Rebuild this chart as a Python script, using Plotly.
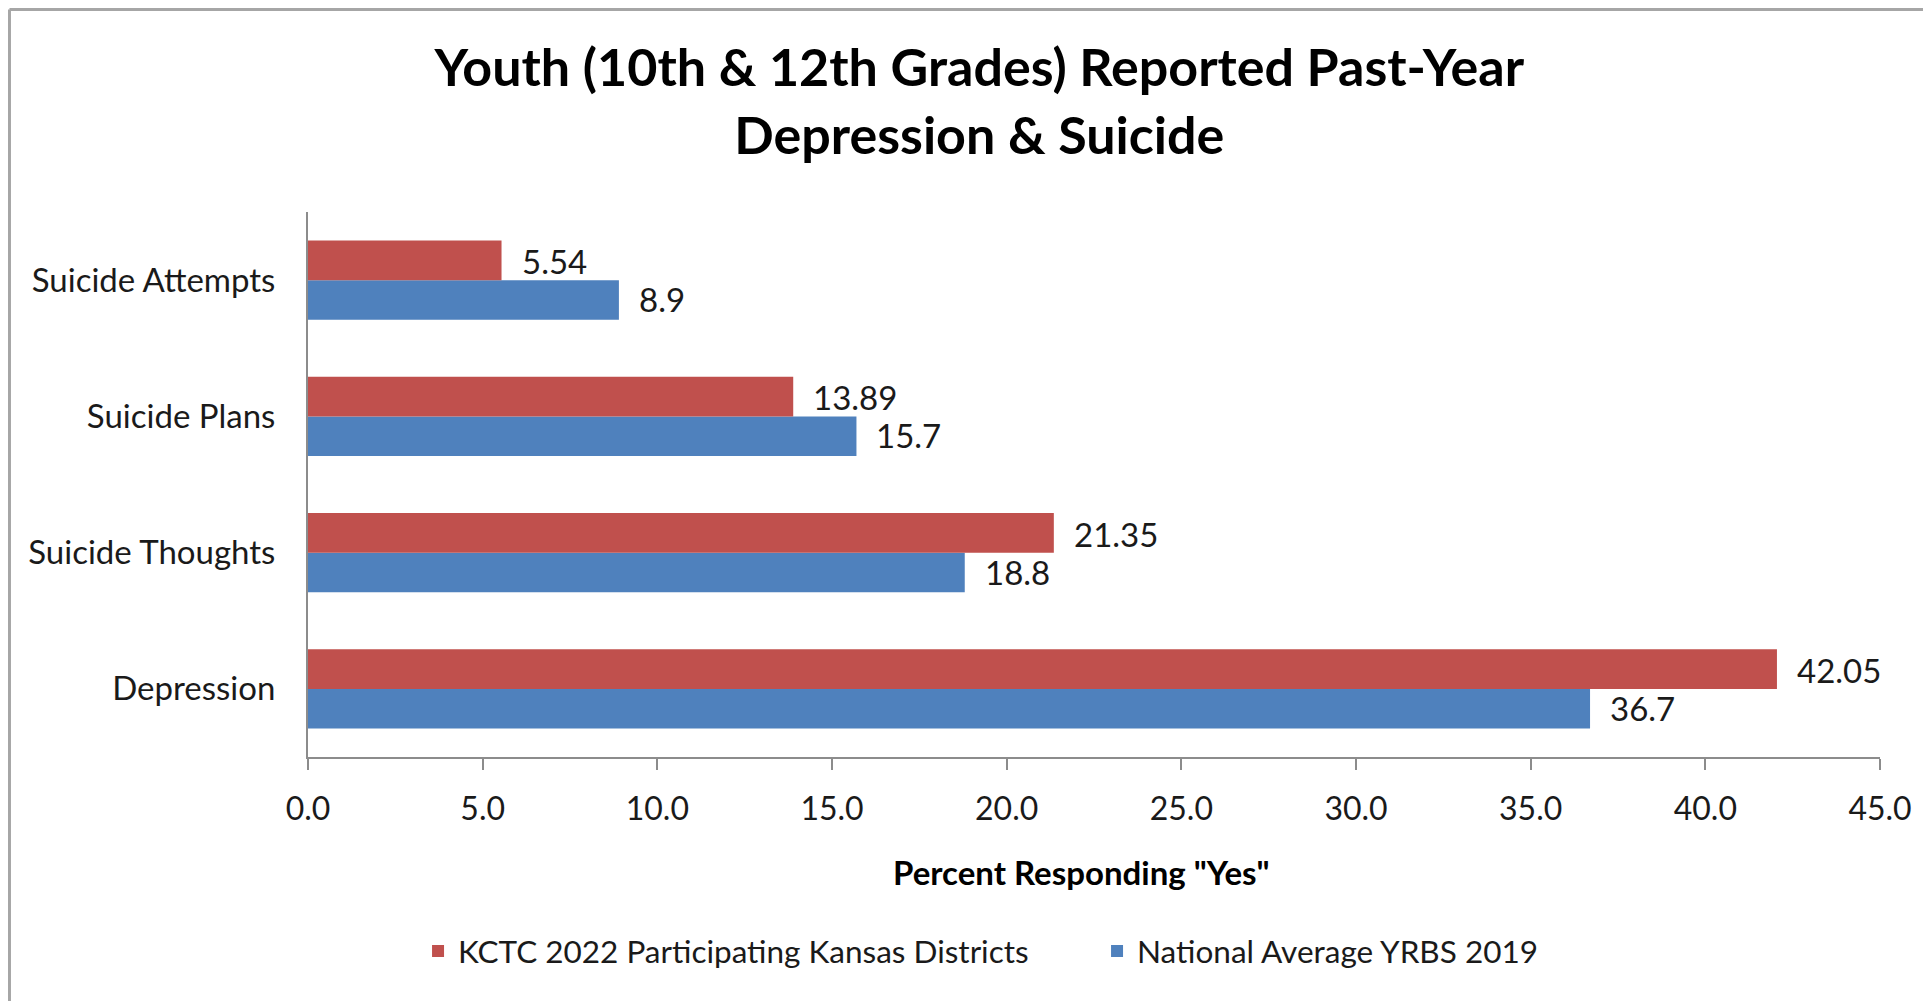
import plotly.graph_objects as go

categories = ["Depression", "Suicide Thoughts", "Suicide Plans", "Suicide Attempts"]
kansas_2022 = [42.05, 21.35, 13.89, 5.54]
national_2019 = [36.7, 18.8, 15.7, 8.9]
series_names = ["KCTC 2022 Participating Kansas Districts", "National Average YRBS 2019"]
x_ticks = [0, 5, 10, 15, 20, 25, 30, 35, 40, 45]

RED = "#C0504D"
BLUE = "#4F81BD"
FONT = "Lato"
TXT = "#1a1a1a"

fig = go.Figure()
fig.add_trace(go.Bar(
    y=categories, x=national_2019, orientation="h", name=series_names[1],
    marker=dict(color=BLUE, line=dict(width=0)), legendrank=2,
))
fig.add_trace(go.Bar(
    y=categories, x=kansas_2022, orientation="h", name=series_names[0],
    marker=dict(color=RED, line=dict(width=0)), legendrank=1,
))

annotations = []
for cat, v in zip(categories, kansas_2022):
    annotations.append(dict(x=v, y=cat, xref="x", yref="y", text=str(v), showarrow=False,
                            xanchor="left", yanchor="middle", xshift=18, yshift=19,
                            font=dict(family=FONT, size=33, color=TXT)))
for cat, v in zip(categories, national_2019):
    annotations.append(dict(x=v, y=cat, xref="x", yref="y", text=str(v), showarrow=False,
                            xanchor="left", yanchor="middle", xshift=18, yshift=-19,
                            font=dict(family=FONT, size=33, color=TXT)))
annotations.append(dict(text='<b>Percent Responding "Yes"</b>', xref="paper", yref="paper",
                        x=0.4923, y=-0.211, xanchor="center", yanchor="middle", showarrow=False,
                        font=dict(family=FONT, size=33, color="black")))

BORDER = dict(color="#a6a6a6", width=3)
fig.update_layout(
    width=1931, height=1001,
    margin=dict(l=300, r=59, t=204, b=252),
    paper_bgcolor="white", plot_bgcolor="white",
    barmode="group", bargap=0.42, bargroupgap=0,
    font=dict(family=FONT, size=32, color=TXT),
    title=dict(text="<b>Youth (10th & 12th Grades) Reported Past-Year<br>Depression & Suicide</b>",
               x=0.503, xanchor="center", y=0.922, yanchor="top",
               font=dict(family=FONT, size=52, color="black")),
    xaxis=dict(range=[0, 45], tickvals=x_ticks, tickformat=".1f",
               showline=True, linecolor="#8c8c8c", linewidth=2,
               ticks="outside", ticklen=11, tickcolor="#8c8c8c", tickwidth=2,
               ticklabelstandoff=12,
               showgrid=False, zeroline=False,
               tickfont=dict(family=FONT, size=32, color=TXT)),
    yaxis=dict(showline=True, linecolor="#8c8c8c", linewidth=2,
               ticks="outside", ticklen=24, tickcolor="rgba(0,0,0,0)",
               showgrid=False, zeroline=False,
               tickfont=dict(family=FONT, size=33, color=TXT)),
    legend=dict(orientation="h", x=0.070, xanchor="left", y=-0.356, yanchor="middle",
                font=dict(family=FONT, size=31.5, color=TXT), itemwidth=30,
                entrywidth=634, traceorder="normal"),
    annotations=annotations,
    shapes=[
        dict(type="line", xref="paper", yref="paper", x0=-0.1899, x1=1.2, y0=1.3716, y1=1.3716,
             line=BORDER, layer="below"),
        dict(type="line", xref="paper", yref="paper", x0=-0.1899, x1=-0.1899, y0=-1.0, y1=1.3716,
             line=BORDER, layer="below"),
    ],
)

fig.write_html("out.html")
